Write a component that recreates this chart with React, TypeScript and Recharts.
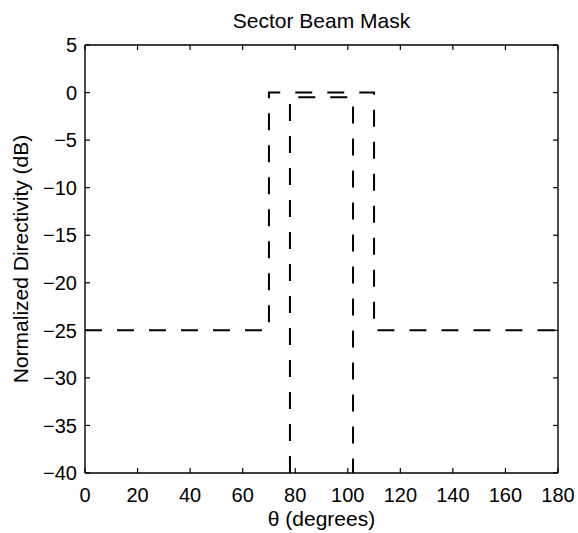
import { LineChart, Line, XAxis, YAxis, Label } from "recharts";

// mask outline (wide sector)
const outerTheta = [0, 70, 70, 110, 110, 180];
const outerLevel = [-25, -25, 0, 0, -25, -25];

// inner main-beam limit
const innerTheta = [78, 78, 102, 102];
const innerLevel = [-40, -0.5, -0.5, -40];

const xTicks = [0, 20, 40, 60, 80, 100, 120, 140, 160, 180];
const yTicks = [-40, -35, -30, -25, -20, -15, -10, -5, 0, 5];

const outer = outerTheta.map((t, i) => ({ theta: t, level: outerLevel[i] }));
const inner = innerTheta.map((t, i) => ({ theta: t, level: innerLevel[i] }));

const FONT = '"Liberation Sans", Arial, Helvetica, sans-serif';
const TICK_LEN = 5;
const minus = (v: number) => String(v).replace("-", "\u2212");

// ticks point into the plot box, matlab style
const BottomTick = (p: any) => (
  <g>
    <line x1={p.x} y1={p.y} x2={p.x} y2={p.y - TICK_LEN} stroke="#000" strokeWidth={1.2} />
    <text x={p.x} y={p.y + 28.5} textAnchor="middle" fontSize={20} fontFamily={FONT} fill="#000">
      {p.payload.value}
    </text>
  </g>
);

const LeftTick = (p: any) => (
  <g>
    <line x1={p.x} y1={p.y} x2={p.x + TICK_LEN} y2={p.y} stroke="#000" strokeWidth={1.2} />
    <text x={p.x - 8} y={p.y} dy="0.36em" textAnchor="end" fontSize={20} fontFamily={FONT} fill="#000">
      {minus(p.payload.value)}
    </text>
  </g>
);

const TopTick = (p: any) => (
  <line x1={p.x} y1={p.y} x2={p.x} y2={p.y + TICK_LEN} stroke="#000" strokeWidth={1.2} />
);

const RightTick = (p: any) => (
  <line x1={p.x} y1={p.y} x2={p.x - TICK_LEN} y2={p.y} stroke="#000" strokeWidth={1.2} />
);

export default function App() {
  const axisLine = { stroke: "#000", strokeWidth: 1.4 };

  return (
    <div style={{ position: "absolute", left: 0, top: 0, width: 578, height: 533, background: "#fff" }}>
      <LineChart
        width={578}
        height={533}
        margin={{ top: 44, right: 19, bottom: 0, left: 0 }}
      >
        <XAxis
          xAxisId="bottom"
          type="number"
          dataKey="theta"
          domain={[0, 180]}
          ticks={xTicks}
          allowDataOverflow
          height={60}
          tickSize={0}
          tickMargin={0}
          tickLine={false}
          tick={BottomTick}
          axisLine={axisLine}
        >
          <Label
            content={(p: any) => {
              const vb = p.viewBox;
              return (
                <text x={vb.x + vb.width / 2} y={526} textAnchor="middle" fontSize={21} fontFamily={FONT} fill="#000">
                  θ (degrees)
                </text>
              );
            }}
          />
        </XAxis>
        <XAxis
          xAxisId="top"
          orientation="top"
          type="number"
          dataKey="theta"
          domain={[0, 180]}
          ticks={xTicks}
          allowDataOverflow
          height={1}
          tickSize={0}
          tickMargin={0}
          tickLine={false}
          tick={TopTick}
          axisLine={axisLine}
        >
          <Label
            content={(p: any) => {
              const vb = p.viewBox;
              return (
                <text x={vb.x + vb.width / 2} y={28} textAnchor="middle" fontSize={21} fontFamily={FONT} fill="#000">
                  Sector Beam Mask
                </text>
              );
            }}
          />
        </XAxis>
        <YAxis
          yAxisId="left"
          type="number"
          domain={[-40, 5]}
          ticks={yTicks}
          allowDataOverflow
          width={85}
          tickSize={0}
          tickMargin={0}
          tickLine={false}
          tick={LeftTick}
          axisLine={axisLine}
        >
          <Label
            content={(p: any) => {
              const vb = p.viewBox;
              const cy = vb.y + vb.height / 2;
              return (
                <text
                  x={28}
                  y={cy}
                  transform={`rotate(-90, 28, ${cy})`}
                  textAnchor="middle"
                  fontSize={21}
                  fontFamily={FONT}
                  fill="#000"
                >
                  Normalized Directivity (dB)
                </text>
              );
            }}
          />
        </YAxis>
        <YAxis
          yAxisId="right"
          orientation="right"
          type="number"
          domain={[-40, 5]}
          ticks={yTicks}
          allowDataOverflow
          width={1}
          tickSize={0}
          tickMargin={0}
          tickLine={false}
          tick={RightTick}
          axisLine={axisLine}
        />

        <Line
          data={outer}
          xAxisId="bottom"
          yAxisId="left"
          type="linear"
          dataKey="level"
          stroke="#000"
          strokeWidth={2}
          strokeDasharray="17 15"
          dot={false}
          activeDot={false}
          isAnimationActive={false}
        />
        <Line
          data={inner}
          xAxisId="bottom"
          yAxisId="left"
          type="linear"
          dataKey="level"
          stroke="#000"
          strokeWidth={2}
          strokeDasharray="17 15"
          dot={false}
          activeDot={false}
          isAnimationActive={false}
        />
      </LineChart>
    </div>
  );
}
